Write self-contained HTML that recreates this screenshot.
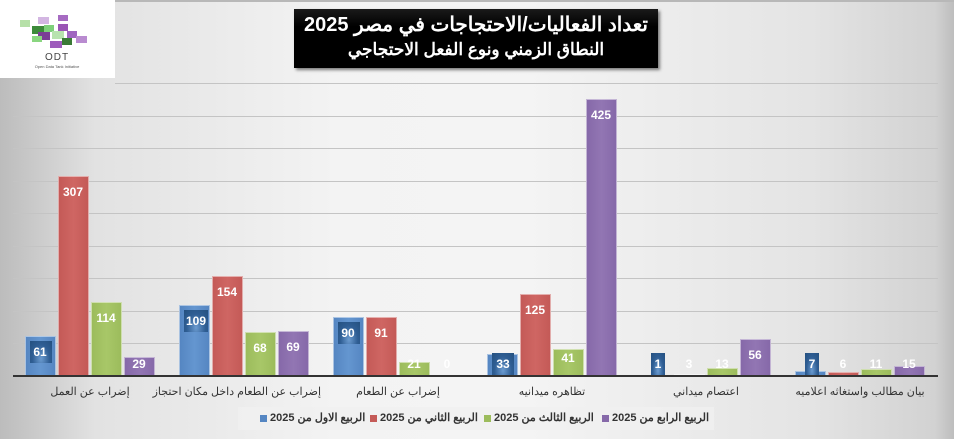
<!DOCTYPE html>
<html><head><meta charset="utf-8">
<style>
body{margin:0;width:954px;height:439px;overflow:hidden;position:relative;font-family:"Liberation Sans","Noto Sans CJK SC",sans-serif;
background:linear-gradient(90deg,#bcbcbc 0%,#e2e2e2 10%,#f3f3f3 35%,#f4f4f4 55%,#e4e4e4 85%,#d2d2d2 98%,#bdbdbd 100%);}
.top{position:absolute;left:0;top:0;width:954px;height:2px;background:#b8b8b8}
.g{position:absolute;left:13px;width:925px;height:1px;background:#c4c4c4}
.b{position:absolute;width:31px;border:1px solid rgba(255,255,255,.5);box-sizing:border-box}
.c1{background:linear-gradient(90deg,#5586c2,#6496d0,#5586c2)}
.c2{background:linear-gradient(90deg,#c45a57,#cf6663,#c45a57)}
.c3{background:linear-gradient(90deg,#9cbc5c,#a8c768,#9cbc5c)}
.c4{background:linear-gradient(90deg,#8669a9,#9276b3,#8669a9)}
.l{position:absolute;width:32px;text-align:center;color:#fff;font-weight:bold;font-size:12px;line-height:16px}
.bx{position:absolute;width:22px;height:22px;background:radial-gradient(ellipse at 50% 80%,#6b9bd0 0%,#2f5e94 55%,#24507f 100%)}
.cat{position:absolute;top:385px;width:154px;text-align:center;font-size:11px;color:#333;direction:rtl;white-space:nowrap;letter-spacing:-0.3px}
.sq{display:inline-block;width:7px;height:7px;margin-right:3px;vertical-align:middle}
.li{position:absolute;top:0;white-space:nowrap;font-size:11px;font-weight:bold;color:#333;line-height:23px;letter-spacing:-0.3px}
</style></head><body>
<div class="top"></div>
<div style="position:absolute;left:0;top:0;width:115px;height:78px;background:#fff">
<svg width="115" height="78">
<g>
<rect x="20" y="20" width="10" height="7" fill="#b6e0a8"/><rect x="38" y="17" width="11" height="7" fill="#d3b6e2"/>
<rect x="58" y="15" width="10" height="6" fill="#a66bc2"/><rect x="32" y="26" width="12" height="8" fill="#3d8a3a"/>
<rect x="44" y="25" width="10" height="7" fill="#7ed07a"/><rect x="58" y="24" width="10" height="7" fill="#9a55b5"/>
<rect x="38" y="32" width="12" height="8" fill="#7a3d95"/><rect x="52" y="31" width="12" height="8" fill="#b8e3ae"/>
<rect x="67" y="31" width="10" height="7" fill="#a066c0"/><rect x="32" y="36" width="10" height="6" fill="#8ad680"/>
<rect x="62" y="38" width="10" height="7" fill="#3a7a36"/><rect x="76" y="36" width="11" height="7" fill="#b98bd0"/>
<rect x="50" y="41" width="12" height="7" fill="#9e5cbc"/>
</g>
<text x="57" y="60" text-anchor="middle" font-family="Liberation Sans" font-size="10" fill="#444" letter-spacing="1">ODT</text>
<text x="57" y="68" text-anchor="middle" font-family="Liberation Sans" font-size="4" fill="#555">Open Data Tank Initiative</text>
</svg></div>
<div style="position:absolute;left:294px;top:9px;width:364px;height:59px;background:linear-gradient(#1a1a1a,#000 30%,#000);box-shadow:2px 2px 3px #777;color:#fff;text-align:center;direction:rtl;font-weight:bold;white-space:nowrap;overflow:hidden">
<div style="font-size:20px;line-height:26px;margin-top:3px">تعداد الفعاليات/الاحتجاجات في مصر 2025</div>
<div style="font-size:17px;line-height:24px">النطاق الزمني ونوع الفعل الاحتجاجي</div>
</div>
<div class="g" style="top:83px;left:115px;width:823px"></div>
<div class="g" style="top:116px"></div><div class="g" style="top:148px"></div><div class="g" style="top:181px"></div>
<div class="g" style="top:213px"></div><div class="g" style="top:246px"></div><div class="g" style="top:278px"></div>
<div class="g" style="top:311px"></div><div class="g" style="top:343px"></div>

<div class="b c1" style="left:25px;top:336px;height:40px"></div>
<div class="b c2" style="left:58px;top:176px;height:200px"></div>
<div class="b c3" style="left:91px;top:302px;height:74px"></div>
<div class="b c4" style="left:124px;top:357px;height:19px"></div>
<div class="b c1" style="left:179px;top:305px;height:71px"></div>
<div class="b c2" style="left:212px;top:276px;height:100px"></div>
<div class="b c3" style="left:245px;top:332px;height:44px"></div>
<div class="b c4" style="left:278px;top:331px;height:45px"></div>
<div class="b c1" style="left:333px;top:317px;height:59px"></div>
<div class="b c2" style="left:366px;top:317px;height:59px"></div>
<div class="b c3" style="left:399px;top:362px;height:14px"></div>
<div class="b c1" style="left:487px;top:354px;height:22px"></div>
<div class="b c2" style="left:520px;top:294px;height:82px"></div>
<div class="b c3" style="left:553px;top:349px;height:27px"></div>
<div class="b c4" style="left:586px;top:99px;height:277px"></div>
<div class="b c1" style="left:641px;top:375px;height:1px"></div>
<div class="b c2" style="left:674px;top:374px;height:2px"></div>
<div class="b c3" style="left:707px;top:368px;height:8px"></div>
<div class="b c4" style="left:740px;top:339px;height:37px"></div>
<div class="b c1" style="left:795px;top:371px;height:5px"></div>
<div class="b c2" style="left:828px;top:372px;height:4px"></div>
<div class="b c3" style="left:861px;top:369px;height:7px"></div>
<div class="b c4" style="left:894px;top:366px;height:10px"></div>

<div style="position:absolute;left:13px;top:375px;width:925px;height:2px;background:#333"></div>

<div class="bx" style="left:30px;top:341px"></div>
<div class="bx" style="left:184px;top:310px;width:24px"></div>
<div class="bx" style="left:338px;top:322px"></div>
<div class="bx" style="left:492px;top:353px"></div>
<div class="bx" style="left:651px;top:353px;width:14px"></div>
<div class="bx" style="left:805px;top:353px;width:14px"></div>

<div class="l" style="left:24px;top:344px">61</div>
<div class="l" style="left:57px;top:184px">307</div>
<div class="l" style="left:90px;top:310px">114</div>
<div class="l" style="left:123px;top:356px">29</div>
<div class="l" style="left:180px;top:313px">109</div>
<div class="l" style="left:211px;top:284px">154</div>
<div class="l" style="left:244px;top:340px">68</div>
<div class="l" style="left:277px;top:339px">69</div>
<div class="l" style="left:332px;top:325px">90</div>
<div class="l" style="left:365px;top:325px">91</div>
<div class="l" style="left:398px;top:356px">21</div>
<div class="l" style="left:431px;top:356px">0</div>
<div class="l" style="left:487px;top:356px">33</div>
<div class="l" style="left:519px;top:302px">125</div>
<div class="l" style="left:552px;top:350px">41</div>
<div class="l" style="left:585px;top:107px">425</div>
<div class="l" style="left:642px;top:356px">1</div>
<div class="l" style="left:673px;top:356px">3</div>
<div class="l" style="left:706px;top:356px">13</div>
<div class="l" style="left:739px;top:347px">56</div>
<div class="l" style="left:796px;top:356px">7</div>
<div class="l" style="left:827px;top:356px">6</div>
<div class="l" style="left:860px;top:356px">11</div>
<div class="l" style="left:893px;top:356px">15</div>

<div class="cat" style="left:13px">إضراب عن العمل</div>
<div class="cat" style="left:167px">إضراب عن الطعام داخل مكان احتجاز</div>
<div class="cat" style="left:321px">إضراب عن الطعام</div>
<div class="cat" style="left:475px">تظاهره ميدانيه</div>
<div class="cat" style="left:629px">اعتصام ميداني</div>
<div class="cat" style="left:783px">بيان مطالب واستغاثه اعلاميه</div>

<div style="position:absolute;left:238px;top:407px;width:476px;height:23px;background:rgba(240,240,240,.8);overflow:hidden">
<div class="li" style="left:22px"><span class="sq" style="background:#5586c2"></span><span dir="rtl">الربيع الاول من 2025</span></div>
<div class="li" style="left:132px"><span class="sq" style="background:#c45a57"></span><span dir="rtl">الربيع الثاني من 2025</span></div>
<div class="li" style="left:246px"><span class="sq" style="background:#9cbc5c"></span><span dir="rtl">الربيع الثالث من 2025</span></div>
<div class="li" style="left:364px"><span class="sq" style="background:#8669a9"></span><span dir="rtl">الربيع الرابع من 2025</span></div>
</div>
</body></html>
